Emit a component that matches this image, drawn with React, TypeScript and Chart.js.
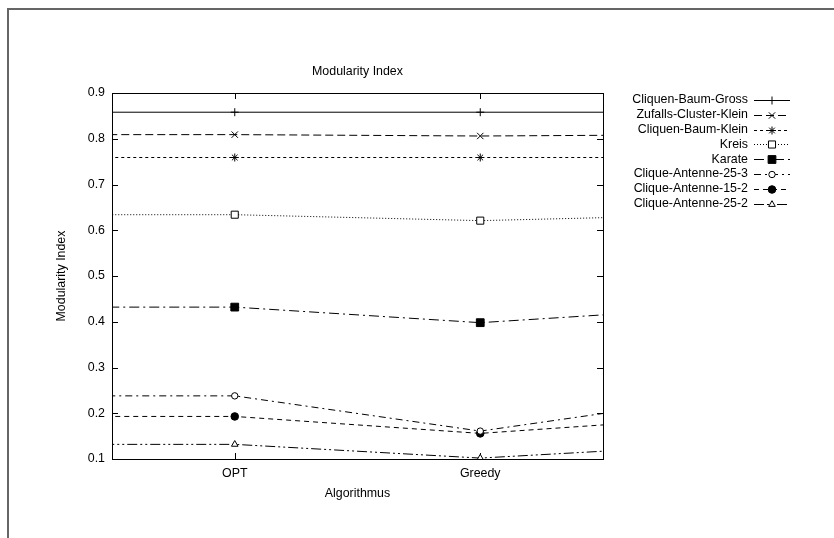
import React, { useEffect, useRef } from "react";
import { Chart, registerables } from "chart.js";
import { drawPoint } from "chart.js/helpers";

Chart.register(...registerables);

const chartTitle = "Modularity Index";
const xAxisTitle = "Algorithmus";
const yAxisTitle = "Modularity Index";
const xLabels = ["OPT", "Greedy"];
const seriesNames = [
  "Cliquen-Baum-Gross",
  "Zufalls-Cluster-Klein",
  "Cliquen-Baum-Klein",
  "Kreis",
  "Karate",
  "Clique-Antenne-25-3",
  "Clique-Antenne-15-2",
  "Clique-Antenne-25-2",
];
const optValues = [0.858, 0.809, 0.759, 0.634, 0.432, 0.238, 0.193, 0.132];
const greedyValues = [0.858, 0.806, 0.759, 0.621, 0.398, 0.161, 0.156, 0.102];
const yMin = 0.1;
const yMax = 0.9;
const yStep = 0.1;

const FONT = '"Liberation Sans", Arial, Helvetica, sans-serif';
const FONT_SIZE = 12.4;

const styles = [
  { dash: [], point: "cross", radius: 4, fill: "#000" },
  { dash: [8, 4], point: "crossRot", radius: 4.5, fill: "#000" },
  { dash: [3, 3], point: "star", radius: 4, fill: "#000" },
  { dash: [1, 2], point: "rect", radius: 5, fill: "#fff" },
  { dash: [10, 4, 2, 4], point: "rect", radius: 5.5, fill: "#000" },
  { dash: [7, 4, 2, 4], point: "circle", radius: 3.2, fill: "#fff" },
  { dash: [5, 4], point: "circle", radius: 3.8, fill: "#000" },
  { dash: [10, 3, 2, 3, 2, 3], point: "triangle", radius: 3.8, fill: "#fff" },
];

const framePlugin = {
  id: "gnuFrame",
  beforeDatasetsDraw(chart: any) {
    const { ctx, chartArea } = chart;
    const { left, right, top, bottom } = chartArea;
    const ys = chart.scales.y;
    const xs = chart.scales.x;
    ctx.save();
    ctx.strokeStyle = "#000";
    ctx.lineWidth = 1;
    ctx.setLineDash([]);
    ctx.beginPath();
    ys.ticks.forEach((t: any) => {
      const py = Math.round(ys.getPixelForValue(t.value)) + 0.5;
      ctx.moveTo(left, py);
      ctx.lineTo(left + 6, py);
      ctx.moveTo(right, py);
      ctx.lineTo(right - 6, py);
    });
    xs.ticks.forEach((t: any) => {
      const px = Math.round(xs.getPixelForValue(t.value)) + 0.5;
      ctx.moveTo(px, bottom);
      ctx.lineTo(px, bottom - 6);
      ctx.moveTo(px, top);
      ctx.lineTo(px, top + 6);
    });
    ctx.stroke();
    ctx.restore();
  },
  afterDraw(chart: any) {
    const { ctx, chartArea } = chart;
    const { left, right, top, bottom } = chartArea;
    ctx.save();
    ctx.strokeStyle = "#000";
    ctx.lineWidth = 1;
    ctx.setLineDash([]);
    ctx.strokeRect(Math.round(left) + 0.5, Math.round(top) + 0.5, Math.round(right - left), Math.round(bottom - top));

    ctx.fillStyle = "#000";
    ctx.font = `${FONT_SIZE}px ${FONT}`;
    ctx.textAlign = "center";
    ctx.textBaseline = "middle";
    const cx = (left + right) / 2;
    ctx.fillText(chartTitle, cx, top - 21);
    ctx.fillText(xAxisTitle, cx, bottom + 35);
    ctx.save();
    ctx.translate(62, (top + bottom) / 2);
    ctx.rotate(-Math.PI / 2);
    ctx.fillText(yAxisTitle, 0, 0);
    ctx.restore();

    // legend
    const textRight = right + 145;
    const lineStart = right + 151;
    const lineEnd = right + 187;
    chart.data.datasets.forEach((ds: any, i: number) => {
      const y = top + 7 + i * 14.8;
      ctx.fillStyle = "#000";
      ctx.textAlign = "right";
      ctx.fillText(ds.label, textRight, y);
      ctx.beginPath();
      ctx.setLineDash(ds.borderDash || []);
      ctx.strokeStyle = "#000";
      ctx.lineWidth = 1;
      ctx.moveTo(lineStart, Math.round(y) + 0.5);
      ctx.lineTo(lineEnd, Math.round(y) + 0.5);
      ctx.stroke();
      ctx.setLineDash([]);
      ctx.fillStyle = styles[i].fill;
      ctx.strokeStyle = "#000";
      ctx.lineWidth = 1;
      drawPoint(ctx, { pointStyle: styles[i].point, radius: styles[i].radius, rotation: 0, borderWidth: 1 } as any, (lineStart + lineEnd) / 2, Math.round(y) + 0.5);
    });
    ctx.restore();
  },
};

export default function App() {
  const ref = useRef<HTMLCanvasElement>(null);
  useEffect(() => {
    if (!ref.current) return;
    Chart.defaults.color = "#000";
    Chart.defaults.font.family = FONT;
    Chart.defaults.font.size = FONT_SIZE;
    const datasets = seriesNames.map((name, i) => {
      const s = styles[i];
      return {
        label: name,
        data: [
          { x: -1, y: optValues[i] },
          { x: 0, y: optValues[i] },
          { x: 1, y: greedyValues[i] },
          { x: 2, y: optValues[i] },
        ],
        borderColor: "#000",
        borderWidth: 1,
        borderDash: s.dash,
        pointStyle: s.point,
        pointRadius: [0, s.radius, s.radius, 0],
        pointBackgroundColor: s.fill,
        pointBorderColor: "#000",
        pointBorderWidth: 1,
        tension: 0,
        fill: false,
      };
    });
    const chart = new Chart(ref.current, {
      type: "line",
      data: { datasets },
      options: {
        animation: false,
        responsive: false,
        events: [],
        layout: { padding: { top: 93, right: 231, left: 0, bottom: 0 } },
        plugins: { legend: { display: false }, title: { display: false }, tooltip: { enabled: false } },
        scales: {
          x: {
            type: "linear",
            min: -0.5,
            max: 1.5,
            grid: { display: false, drawTicks: false },
            border: { display: false },
            afterBuildTicks: (scale: any) => {
              scale.ticks = xLabels.map((_, i) => ({ value: i }));
            },
            afterFit: (scale: any) => {
              scale.height = 79;
            },
            ticks: {
              padding: 7,
              autoSkip: false,
              maxRotation: 0,
              callback: (v: any) => xLabels[v] ?? "",
            },
          },
          y: {
            type: "linear",
            min: yMin,
            max: yMax,
            grid: { display: false, drawTicks: false },
            border: { display: false },
            afterFit: (scale: any) => {
              scale.width = 112;
            },
            ticks: {
              stepSize: yStep,
              padding: 7,
              callback: (v: any) => Number(v).toFixed(1),
            },
          },
        },
      },
      plugins: [framePlugin],
    } as any);
    return () => chart.destroy();
  }, []);
  return (
    <div style={{ position: "fixed", left: 0, top: 0, width: 834, height: 538, background: "#fff" }}>
      <div
        style={{
          position: "absolute",
          left: 7,
          top: 8,
          width: 827,
          height: 530,
          borderTop: "2px solid #666",
          borderLeft: "2px solid #666",
          boxSizing: "border-box",
        }}
      />
      <canvas ref={ref} width={834} height={538} style={{ position: "absolute", left: 0, top: 0, width: 834, height: 538 }} />
    </div>
  );
}
